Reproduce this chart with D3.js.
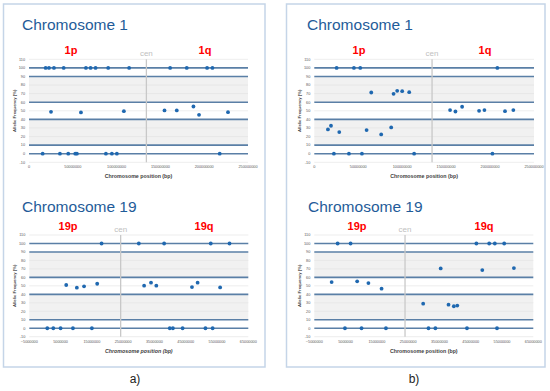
<!DOCTYPE html>
<html>
<head>
<meta charset="utf-8">
<script src="https://cdn.jsdelivr.net/npm/d3@7"></script>
<style>
  body { margin: 0; background: #fff; }
  svg { display: block; font-family: "Liberation Sans", Arial, sans-serif; }
</style>
</head>
<body>
<svg id="chart" width="550" height="391"></svg>
<script>
// positions in Mbp, allelic frequency in %
const chr1aPos = [19.0, 22.8, 28.5, 39.6, 65.0, 70.3, 76.0, 90.4, 114.3, 161.1, 180.1, 203.3, 209.4,
                  25.1, 59.3, 108.3, 154.7, 168.7, 187.7, 194.1, 227.2,
                  15.6, 35.3, 44.8, 52.8, 54.7, 87.8, 94.6, 100.3, 217.7];
const chr1aVal = [100, 100, 100, 100, 100, 100, 100, 100, 100, 100, 100, 100, 100,
                  48.8, 48.1, 49.6, 50.4, 50.4, 55, 45.3, 48.4,
                  0, 0, 0, 0, 0, 0, 0, 0, 0];

const chr1bPos = [25.4, 45.1, 52.3, 208.3,
                  64.8, 90.2, 94.3, 100, 108,
                  15.5, 19, 28.4, 59.5, 76.1, 87.5,
                  22.3, 39.4, 54.2, 113.6, 202.7,
                  154.5, 160.6, 168.2, 187.5, 193.6, 217, 226.5];
const chr1bVal = [100, 100, 100, 100,
                  71.3, 69.8, 73.3, 72.9, 71.7,
                  28.3, 32.6, 25.2, 27.5, 22.5, 30.6,
                  0, 0, 0, 0, 0,
                  50.8, 49.2, 54.7, 50, 50.8, 49.6, 50.8];

const chr19aPos = [18.1, 30.0, 38.1, 53.0, 59.0,
                   6.8, 10.2, 12.5, 16.7, 31.7, 33.9, 35.6, 47, 48.8, 56,
                   0.75, 2.67, 5.0, 8.95, 15.0, 39.9, 40.9, 44.0, 51.3, 53.6];
const chr19aVal = [100, 100, 100, 100, 100,
                   51, 47.8, 49.4, 52.5, 50.2, 53.7, 50.2, 48.6, 53.7, 48.2,
                   0, 0, 0, 0, 0, 0, 0, 0, 0, 0];

const chr19bPos = [2.46, 6.6, 46.8, 50.9, 52.7, 55.7,
                   0.54, 8.7, 12.3, 16.5,
                   4.8, 10.1, 17.9, 31.5, 33.7, 43.8, 53.4,
                   35.4, 48.7, 58.8,
                   29.8, 37.9, 39.6, 40.7];
const chr19bVal = [100, 100, 100, 100, 100, 100,
                   54.5, 55.3, 53.3, 46.7,
                   0, 0, 0, 0, 0, 0, 0,
                   70.6, 68.6, 71,
                   29, 27.8, 25.9, 26.7];

const yTicks = d3.range(-10, 111, 10);
const chr1Ticks = [0, 50, 100, 150, 200, 250];
const chr19Ticks = [-5, 5, 15, 25, 35, 45, 55, 65];
const thickLines = [100, 90, 60, 40, 10, 0];
const bands = [[60, 90], [10, 40]];

const svg = d3.select("#chart");

// outer boxes
[[3.5, 4, 261.5, 363], [286.5, 4, 258.5, 363]].forEach(b => {
    svg.append("rect")
        .attr("x", b[0]).attr("y", b[1])
        .attr("width", b[2]).attr("height", b[3])
        .attr("fill", "none")
        .attr("stroke", "#c5d5e8")
        .attr("stroke-width", 1.5);
});

function drawPanel(cfg) {
    const x = d3.scaleLinear().domain(cfg.domain).range([cfg.left, cfg.right]);
    const y = d3.scaleLinear().domain([-10, 110]).range([cfg.bottom, cfg.top]);
    const g = svg.append("g");

    g.append("text")
        .attr("x", cfg.titleX)
        .attr("y", cfg.titleY)
        .attr("fill", "#1f5c99")
        .style("font-size", "15.5px")
        .text(cfg.title);

    // shaded bands
    bands.forEach(b => {
        g.append("rect")
            .attr("x", cfg.left)
            .attr("y", y(b[1]))
            .attr("width", cfg.right - cfg.left)
            .attr("height", y(b[0]) - y(b[1]))
            .attr("fill", "#f1f1f1");
    });

    // faint gridlines
    g.selectAll(".grid")
        .data(yTicks.filter(t => !thickLines.includes(t)))
        .enter().append("line")
        .attr("x1", cfg.left).attr("x2", cfg.right)
        .attr("y1", d => y(d)).attr("y2", d => y(d))
        .attr("stroke", "#e0e0e0")
        .attr("stroke-width", 0.6);

    g.selectAll(".thick")
        .data(thickLines)
        .enter().append("line")
        .attr("x1", cfg.left).attr("x2", cfg.right)
        .attr("y1", d => y(d)).attr("y2", d => y(d))
        .attr("stroke", "#5a7fa6")
        .attr("stroke-width", 1.6);

    // centromere
    g.append("line")
        .attr("x1", x(cfg.cen)).attr("x2", x(cfg.cen))
        .attr("y1", y(110)).attr("y2", y(-10))
        .attr("stroke", "#c8c8c8")
        .attr("stroke-width", 1.3);

    g.append("text")
        .attr("x", x(cfg.cen))
        .attr("y", cfg.top - 3)
        .attr("text-anchor", "middle")
        .attr("fill", "#c0c0c0")
        .style("font-size", "8px")
        .text("cen");

    [[cfg.pX, cfg.pLabel], [cfg.qX, cfg.qLabel]].forEach(l => {
        g.append("text")
            .attr("x", l[0])
            .attr("y", cfg.top - 5)
            .attr("text-anchor", "middle")
            .attr("fill", "#ff0000")
            .style("font-size", "11px")
            .style("font-weight", "bold")
            .text(l[1]);
    });

    // y tick labels
    g.selectAll(".ytl")
        .data(yTicks)
        .enter().append("text")
        .attr("x", cfg.left - 4)
        .attr("y", d => y(d) + 1.3)
        .attr("text-anchor", "end")
        .attr("fill", "#595959")
        .style("font-size", "3.8px")
        .text(d => d);

    // x tick labels
    g.selectAll(".xtl")
        .data(cfg.ticks)
        .enter().append("text")
        .attr("x", d => x(d))
        .attr("y", cfg.bottom + 6)
        .attr("text-anchor", "middle")
        .attr("fill", "#595959")
        .style("font-size", "3.8px")
        .text(d => d3.format("d")(d * 1e6));

    g.append("text")
        .attr("x", (cfg.left + cfg.right) / 2)
        .attr("y", cfg.bottom + 16)
        .attr("text-anchor", "middle")
        .attr("fill", "#404040")
        .style("font-size", "5.3px")
        .style("font-weight", "bold")
        .style("font-style", cfg.italic ? "italic" : "normal")
        .text("Chromosome position (bp)");

    g.append("text")
        .attr("transform", `translate(${cfg.left - 13}, ${(cfg.top + cfg.bottom) / 2}) rotate(-90)`)
        .attr("text-anchor", "middle")
        .attr("fill", "#404040")
        .style("font-size", "4.2px")
        .style("font-weight", "bold")
        .text("Allelic Frequency (%)");

    g.selectAll(".dot")
        .data(d3.zip(cfg.pos, cfg.val))
        .enter().append("circle")
        .attr("cx", d => x(d[0]))
        .attr("cy", d => y(d[1]))
        .attr("r", 1.9)
        .attr("fill", "#1f68b0");
}

drawPanel({ title: "Chromosome 1", titleX: 22, titleY: 30, left: 29, right: 248, top: 59.3, bottom: 162.3,
    domain: [0, 250], ticks: chr1Ticks, cen: 134, pX: 71, qX: 205, pLabel: "1p", qLabel: "1q",
    pos: chr1aPos, val: chr1aVal });
drawPanel({ title: "Chromosome 1", titleX: 307, titleY: 30, left: 314.3, right: 534, top: 59.3, bottom: 162.3,
    domain: [0, 250], ticks: chr1Ticks, cen: 134, pX: 359, qX: 485, pLabel: "1p", qLabel: "1q",
    pos: chr1bPos, val: chr1bVal });
drawPanel({ title: "Chromosome 19", titleX: 22, titleY: 212, left: 29.3, right: 248.3, top: 235, bottom: 336.7,
    domain: [-5, 65], ticks: chr19Ticks, cen: 24.2, pX: 68, qX: 204, pLabel: "19p", qLabel: "19q",
    pos: chr19aPos, val: chr19aVal, italic: true });
drawPanel({ title: "Chromosome 19", titleX: 308, titleY: 212, left: 314.3, right: 533.3, top: 235, bottom: 336.7,
    domain: [-5, 65], ticks: chr19Ticks, cen: 24, pX: 357, qX: 484, pLabel: "19p", qLabel: "19q",
    pos: chr19bPos, val: chr19bVal });

[[135, "a)"], [414, "b)"]].forEach(l => {
    svg.append("text")
        .attr("x", l[0])
        .attr("y", 383)
        .attr("text-anchor", "middle")
        .attr("fill", "#222")
        .style("font-size", "12px")
        .text(l[1]);
});
</script>
</body>
</html>
